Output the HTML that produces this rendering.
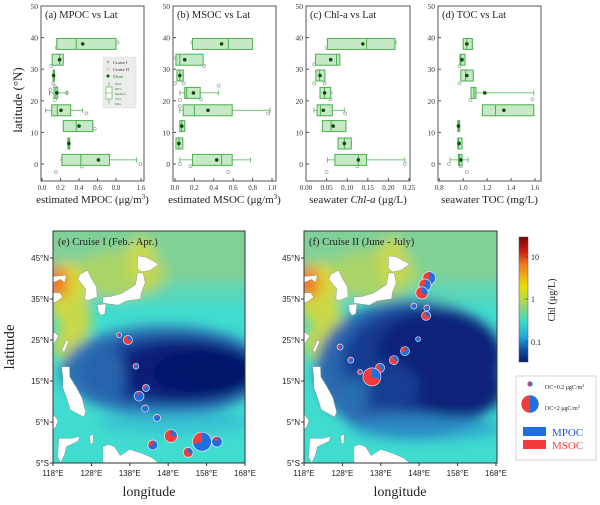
<!DOCTYPE html>
<html><head><meta charset="utf-8"><style>
html,body{margin:0;padding:0;background:#fff;}
svg{display:block;font-family:"Liberation Serif",serif;}
.sans{font-family:"Liberation Sans",sans-serif;}
</style></head><body>
<svg id="fig" width="600" height="505" viewBox="0 0 600 505" xmlns="http://www.w3.org/2000/svg">
<defs>
<filter id="blur6" filterUnits="userSpaceOnUse" x="0" y="200" width="600" height="300"><feGaussianBlur stdDeviation="6"/></filter>
<clipPath id="clipE"><rect x="53" y="231" width="192" height="232"/></clipPath>
<clipPath id="clipF"><rect x="304" y="231" width="193" height="232"/></clipPath>
<linearGradient id="cbar" x1="0" y1="0" x2="0" y2="1">
<stop offset="0" stop-color="#7a0000"/><stop offset="0.12" stop-color="#d02010"/>
<stop offset="0.22" stop-color="#f07a20"/><stop offset="0.4" stop-color="#e8e000"/>
<stop offset="0.52" stop-color="#a8d858"/><stop offset="0.68" stop-color="#38d8c8"/>
<stop offset="0.8" stop-color="#20a8d8"/><stop offset="0.9" stop-color="#1050a8"/>
<stop offset="1" stop-color="#0a1a68"/></linearGradient>
</defs>
<g id="boxes"></g>
<g id="maps"></g>
</svg>
<script>
// ---------- box-plot data ----------
const boxLat = [38, 33, 28, 22.5, 17, 12, 6.5, 1.3];
const aQ1 = [0.16,0.11,0.12,0.13,0.105,0.23,0.28,0.215];
const aMed = [0.37,0.19,0.125,0.15,0.165,0.37,0.29,0.42];
const aQ3 = [0.8,0.23,0.13,0.17,0.31,0.55,0.30,0.73];
const aMean = [0.44,0.19,0.125,0.16,0.205,0.40,0.29,0.61];
const aLo = [0.16,0.11,0.12,0.08,0.04,0.23,0.28,0.215];
const aHi = [0.8,0.23,0.13,0.27,0.44,0.55,0.30,1.46];
const aPtV = [0.85,0.16,0.1,0.12,0.09,0.14,0.27,0.14,0.48,0.25,0.57,0.22,1.58,0.43,0.15];
const aPtL = [38.5,36.8,31,25.5,23.5,24.5,22.5,20.3,16,12.5,11.2,1.3,0,-0.8,-2.5];

const bQ1 = [0.18,0.01,0.02,0.10,0.085,0.05,0.01,0.18];
const bMed = [0.55,0.05,0.05,0.12,0.20,0.07,0.04,0.48];
const bQ3 = [0.80,0.29,0.085,0.26,0.59,0.10,0.08,0.59];
const bMean = [0.48,0.10,0.05,0.19,0.34,0.07,0.04,0.43];
const bLo = [0.18,0.01,0.02,0.05,0.05,0.05,0.01,0.05];
const bHi = [0.80,0.29,0.085,0.45,0.98,0.10,0.08,0.78];
const bPtV = [0.18,0.58,0.01,0.3,0.0,0.09,0.45,0.05,0.27,0.27,0.05,0.96,0.05,0.16,0.55];
const bPtL = [38.5,36.8,33.5,31,25.5,25.5,24.8,20.3,20.5,18.2,18.3,16,0,-0.7,-2.5];

const cQ1 = [0.052,0.023,0.024,0.034,0.027,0.04,0.078,0.07];
const cMed = [0.147,0.074,0.033,0.045,0.035,0.061,0.093,0.127];
const cQ3 = [0.216,0.082,0.046,0.06,0.064,0.097,0.11,0.147];
const cMean = [0.138,0.06,0.034,0.045,0.042,0.066,0.093,0.127];
const cLo = [0.052,0.023,0.024,0.034,0.019,0.04,0.078,0.052];
const cHi = [0.216,0.082,0.046,0.06,0.093,0.097,0.11,0.24];
const cPtV = [0.216,0.05,0.02,0.02,0.045,0.06,0.06,0.095,0.24,0.125,0.05];
const cPtL = [38.5,36.7,31.5,25.5,25.5,20.5,22.5,16,0,-0.7,-2.5];

const dQ1 = [1.0,0.973,0.98,1.065,1.16,0.955,0.955,0.96];
const dMed = [1.03,0.98,1.02,1.09,1.27,0.96,0.96,0.97];
const dQ3 = [1.076,1.015,1.084,1.107,1.59,0.97,0.99,0.99];
const dMean = [1.03,0.99,1.03,1.18,1.34,0.96,0.965,0.98];
const dLo = [1.0,0.973,0.98,1.065,1.16,0.955,0.955,0.89];
const dHi = [1.076,1.015,1.084,1.59,1.59,0.97,0.99,1.04];
const dPtV = [1.07,0.97,0.97,1.06,1.58,0.88,1.03,0.98];
const dPtL = [36.7,31,25.5,20.3,20.5,0,-2.5,-0.7];

// ---------- pie data (Cruise I / Cruise II) ----------
const eLon = [135.2,137.5,139.6,142.2,140.4,142.0,145.1,148.7,144.0,153.2,156.8,160.7];
const eLat = [26.2,25.0,18.6,13.3,11.3,8.3,6.0,1.6,-0.6,-2.4,0.2,0.2];
const eMPOC = [0.08,0.13,0.14,0.21,0.55,0.28,0.27,0.25,0.42,0.18,1.55,0.6];
const eMSOC = [0.07,0.37,0.06,0.09,0.05,0.02,0.03,0.75,0.18,0.42,0.65,0.1];
const fLon = [150.6,149.5,148.7,146.6,150.0,149.8,147.7,144.3,141.4,127.4,130.2,132.6,137.8,135.7];
const fLat = [40.1,38.4,36.5,33.3,32.8,30.9,25.2,22.3,20.1,23.3,20.1,17.2,18.2,16.0];
const fMPOC = [0.5,0.63,0.27,0.18,0.18,0.15,0.14,0.35,0.15,0.11,0.18,0.06,0.2,0.6];
const fMSOC = [0.5,0.27,0.63,0.04,0.04,0.35,0.01,0.15,0.35,0.11,0.04,0.09,0.3,1.4];

const NS = "http://www.w3.org/2000/svg";
function mk(tag, attrs, parent, text){
  const e=document.createElementNS(NS,tag);
  for(const k in attrs) e.setAttribute(k,attrs[k]);
  if(text!==undefined) e.textContent=text;
  parent.appendChild(e); return e;
}
const boxesG=document.getElementById('boxes');
const mapsG=document.getElementById('maps');
const yLat = l => 164 - l*3.16;

function panel(cfg){
  const g=mk('g',{},boxesG);
  
  
  const fr=mk('rect',{x:cfg.x0,y:6,width:cfg.x1-cfg.x0,height:175,fill:'#fff',stroke:'#555','stroke-width':1},g);
  
  
  for(let l=0;l<=50;l+=10){
    mk('line',{x1:cfg.x0,x2:cfg.x0+3,y1:yLat(l),y2:yLat(l),stroke:'#555'},g);
    const t=mk('text',{x:cfg.x0-3,y:yLat(l)+3,'font-size':7.5,'text-anchor':'end',fill:'#333'},g,String(l));
    
    
  }
  cfg.ticks.forEach((v,i)=>{
    const x=cfg.sx(v);
    mk('line',{x1:x,x2:x,y1:181,y2:178,stroke:'#555'},g);
    const t=mk('text',{x:x,y:190,'font-size':7,'text-anchor':'middle',fill:'#333'},g,cfg.tickLabels[i]);
    
    
  });
  const tt=mk('text',{x:cfg.x0+4,y:18,'font-size':10.5,fill:'#222'},g,cfg.title);
  
  
  const xt=mk('text',{x:(cfg.x0+cfg.x1)/2,y:203,'font-size':11,'text-anchor':'middle',fill:'#222'},g);
  xt.innerHTML=cfg.xlabel;
  
  
  cfg.ptV.forEach((v,i)=>{
    const c=mk('circle',{cx:cfg.sx(v),cy:yLat(cfg.ptL[i]),r:1.5,fill:'none',stroke:'#aaa','stroke-width':0.8},g);
    
    
  });
  boxLat.forEach((l,i)=>{
    const y=yLat(l), h=11;
    const bg=mk('g',{},g);
    
    
    mk('line',{x1:cfg.sx(cfg.lo[i]),x2:cfg.sx(cfg.hi[i]),y1:y,y2:y,stroke:'#4caf50','stroke-width':0.8},bg);
    [cfg.lo[i],cfg.hi[i]].forEach(v=>mk('line',{x1:cfg.sx(v),x2:cfg.sx(v),y1:y-2.5,y2:y+2.5,stroke:'#4caf50','stroke-width':0.8},bg));
    const x1=cfg.sx(cfg.q1[i]), x2=cfg.sx(cfg.q3[i]);
    mk('rect',{x:x1,y:y-h/2,width:Math.max(1.5,x2-x1),height:h,fill:'#c5e8c5',stroke:'#4caf50','stroke-width':1},bg);
    mk('line',{x1:cfg.sx(cfg.med[i]),x2:cfg.sx(cfg.med[i]),y1:y-h/2,y2:y+h/2,stroke:'#4caf50','stroke-width':1},bg);
    mk('circle',{cx:cfg.sx(cfg.mean[i]),cy:y,r:1.8,fill:'#0b4d0b'},bg);
  });
  return g;
}
const sa = v => v<=0.8 ? 42+v*92.5 : 116+(v-0.8)/0.8*25;
const gA=panel({name:'panel-a-mpoc',x0:41,x1:144,sx:sa,ticks:[0,0.2,0.4,0.6,0.8,1.6],tickLabels:['0.0','0.2','0.4','0.6','0.8','1.6'],
  title:'(a) MPOC vs Lat',xlabel:'estimated MPOC (μg/m<tspan font-size="7" dy="-4">3</tspan><tspan dy="4">)</tspan>',
  q1:aQ1,med:aMed,q3:aQ3,mean:aMean,lo:aLo,hi:aHi,ptV:aPtV,ptL:aPtL});
panel({name:'panel-b-msoc',x0:173,x1:276,sx:v=>175+v*97,ticks:[0,0.2,0.4,0.6,0.8,1.0],tickLabels:['0.0','0.2','0.4','0.6','0.8','1.0'],
  title:'(b) MSOC vs Lat',xlabel:'estimated MSOC (μg/m<tspan font-size="7" dy="-4">3</tspan><tspan dy="4">)</tspan>',
  q1:bQ1,med:bMed,q3:bQ3,mean:bMean,lo:bLo,hi:bHi,ptV:bPtV,ptL:bPtL});
panel({name:'panel-c-chla',x0:306,x1:410,sx:v=>306+v*412,ticks:[0,0.05,0.1,0.15,0.2,0.25],tickLabels:['0.00','0.05','0.10','0.15','0.20','0.25'],
  title:'(c) Chl-a vs Lat',xlabel:'seawater <tspan font-style="italic">Chl-a</tspan> (μg/L)',
  q1:cQ1,med:cMed,q3:cQ3,mean:cMean,lo:cLo,hi:cHi,ptV:cPtV,ptL:cPtL});
panel({name:'panel-d-toc',x0:438,x1:541,sx:v=>439.3+(v-0.8)*119.6,ticks:[0.8,1.0,1.2,1.4,1.6],tickLabels:['0.8','1.0','1.2','1.4','1.6'],
  title:'(d) TOC vs Lat',xlabel:'seawater TOC (mg/L)',
  q1:dQ1,med:dMed,q3:dQ3,mean:dMean,lo:dLo,hi:dHi,ptV:dPtV,ptL:dPtL});
const lg=mk('g',{},gA);


mk('rect',{x:103,y:57,width:33,height:51,fill:'#ececec',stroke:'#ccc','stroke-width':0.5,'stroke-dasharray':'1,1'},lg);
mk('circle',{cx:108,cy:62,r:1.2,fill:'#aaa'},lg);
mk('text',{x:113,y:64,'font-size':4.5,fill:'#333'},lg,'Cruise I');
mk('circle',{cx:108,cy:69,r:1.2,fill:'none',stroke:'#aaa','stroke-width':0.5},lg);
mk('text',{x:113,y:71,'font-size':4.5,fill:'#333'},lg,'Cruise II');
mk('circle',{cx:108,cy:76,r:1.5,fill:'#0b4d0b'},lg);
mk('text',{x:113,y:78,'font-size':4.5,fill:'#2a8a2a'},lg,'Mean');
mk('line',{x1:109,x2:109,y1:82,y2:104,stroke:'#4caf50','stroke-width':0.6},lg);
mk('rect',{x:106,y:87,width:6,height:12,fill:'#fff',stroke:'#4caf50','stroke-width':0.6},lg);
mk('line',{x1:106,x2:112,y1:93,y2:93,stroke:'#4caf50','stroke-width':0.6},lg);
['Max','99%','Median','25%','Min'].forEach((s,i)=>mk('text',{x:115,y:85+i*5,'font-size':3.5,fill:'#2a8a2a'},lg,s));
const yt=mk('text',{x:0,y:0,'font-size':13,'text-anchor':'middle',fill:'#222',transform:'translate(22,100) rotate(-90)'},boxesG,'latitude (°N)');



// ---------- maps ----------
function mapPanel(x0, clip, name, title, dark, lonA, latA, mA, sA){
  const xs = lon => x0+(lon-118)*3.84;
  const ys = lat => 463-(lat+5)*4.1;
  const g=mk('g',{},mapsG);
  
  
  const c=mk('g',{'clip-path':'url(#'+clip+')'},g);
  mk('rect',{x:x0,y:231,width:193,height:232,fill:'#40dcd0'},c);
  const bl=mk('g',{filter:'url(#blur6)'},c);
  const E=(lon,lat,rx,ry,col,op)=>mk('ellipse',{cx:xs(lon),cy:ys(lat),rx:rx*3.84,ry:ry*4.1,fill:col,'fill-opacity':op||1},bl);
  const R=(l0,la0,l1,la1,col,op)=>mk('rect',{x:xs(l0),y:ys(la1),width:(l1-l0)*3.84,height:(la1-la0)*4.1,fill:col,'fill-opacity':op||1},bl);
  R(110,34,175,60,'#5cd6b8');
  R(110,39,175,60,'#80d098');
  E(136,41,12,6,'#a8d468');E(141,44,4,6,'#c8d850');E(122,36,5,8,'#d8d838');E(119,39,3,4,'#f07828');
  E(124,30,4,6,'#c8d848');E(121,24,3,4,'#c8d848');
  dark.forEach(d=>E(d[0],d[1],d[2],d[3],d[4],d[5]));
  const land=[
    [[124.5,39.8],[126.5,37.5],[126.3,35],[127,34.6],[129.5,35.5],[129.3,38],[128,40],[127,42],[125,41]],
    [[118,40.5],[121.5,40.8],[121,39],[120,39.8],[118,39]],
    [[118,36.5],[119.8,36.5],[120.5,35.5],[119.2,34.5],[118,34]],
    [[118,27],[119.5,26],[118.5,24.5],[118,24]],
    [[140,45.5],[142,45.3],[145.5,43.5],[143.3,42],[141,41.6],[140,42.5]],
    [[140,41.4],[141.5,41.3],[142,39],[141,36.5],[140.8,35],[139,34.8],[137,34.5],[135,33.5],[132.5,33.8],[131,34],[131,35.5],[133,35.6],[136,36.4],[137,37],[139.5,38.5]],
    [[129.6,33.6],[131.8,33.8],[131.5,31.4],[130.5,31],[129.8,32]],
    [[120.3,22.5],[121.6,25.2],[122,24.5],[120.9,22]],
    [[120.2,18.5],[122.3,18.5],[122.4,16],[124,13.6],[125.5,11],[126.5,7.5],[126,6.2],[124.5,7],[122.5,8],[121.5,11],[120.5,13.5],[120.6,15.5]],
    [[118,7],[119.3,5.3],[118.8,4],[118,3]],
    [[119.5,1],[123,1],[125,1.5],[124.5,0.3],[121.5,-1],[121,-3],[120,-5],[119.2,-3.5]],
    [[131,-1],[132.5,-0.5],[134,-1],[135.5,-3.2],[138,-1.7],[141,-2.6],[144,-3.8],[146,-5.5],[131,-5.5]],
    [[127.5,1.5],[128.5,2],[128.4,0],[127.8,-0.5]]
  ];
  const lgG=mk('g',{},c);
  
  
  land.forEach(p=>mk('polygon',{points:p.map(q=>xs(q[0])+','+ys(q[1])).join(' '),fill:'#fff',stroke:'#888','stroke-width':0.4},lgG));
  mk('rect',{x:x0,y:231,width:x0===53?192:193,height:232,fill:'none',stroke:'#333','stroke-width':1},g);
  const tt=mk('text',{x:x0+5,y:245,'font-size':10.5,fill:'#222'},g,title);
  
  
  [45,35,25,15,5,-5].forEach(l=>{
    mk('line',{x1:x0-3,x2:x0,y1:ys(l),y2:ys(l),stroke:'#333'},g);
    const t=mk('text',{x:x0-4,y:ys(l)+3,'font-size':8,'text-anchor':'end',fill:'#222','class':'sans'},g,(l<0?-l+'°S':l+'°N'));
    
    
  });
  [118,128,138,148,158,168].forEach(lon=>{
    mk('line',{x1:xs(lon),x2:xs(lon),y1:463,y2:466,stroke:'#333'},g);
    const t=mk('text',{x:xs(lon),y:476,'font-size':8,'text-anchor':'middle',fill:'#222','class':'sans'},g,lon+'°E');
    
    
  });
  const xt=mk('text',{x:x0+96,y:496,'font-size':14,'text-anchor':'middle',fill:'#222'},g,'longitude');
  
  
  lonA.forEach((lon,i)=>{
    const tot=mA[i]+sA[i];
    const r=6.4*Math.sqrt(tot);
    pie(g,xs(lon),ys(latA[i]),r,mA[i]/tot,'pie-station');
  });
}
function pie(parent,cx,cy,r,frac,name){
  const g=mk('g',{},parent);
  
  
  mk('circle',{cx:cx,cy:cy,r:r,fill:'#f23c3c'},g);
  if(frac>=0.999){ mk('circle',{cx:cx,cy:cy,r:r,fill:'#1f6fe0'},g); }
  else if(frac>0.001){
    const a=frac*2*Math.PI;
    const x=cx+r*Math.sin(a), y=cy-r*Math.cos(a);
    mk('path',{d:`M${cx},${cy} L${cx},${cy-r} A${r},${r} 0 ${frac>0.5?1:0} 1 ${x},${y} Z`,fill:'#1f6fe0'},g);
  }
  mk('circle',{cx:cx,cy:cy,r:r,fill:'none',stroke:'#fff','stroke-width':0.7,'stroke-opacity':0.8},g);
}
mapPanel(53,'clipE','map-cruise-1','(e) Cruise I (Feb.- Apr.)',[
  [147,17.5,27,11,'#2a70b4'],[149,17.5,23,8.5,'#143c92'],[153,17.5,19,7,'#081e74'],[158,17,14,5.5,'#04146a'],
  [131,16.5,6,7,'#2a68b0',0.9],[150,5,20,3,'#30b0d0',0.6]
],eLon,eLat,eMPOC,eMSOC);
mapPanel(304,'clipF','map-cruise-2','(f) Cruise II (June - July)',[
  [146,18,25,17,'#2a66ae'],[149,20,21,13,'#143a90'],[153,22,16,10,'#0a2478'],[158,13,12,7,'#0a2478'],
  [138,14,10,6,'#163e92'],[131,12,4,4,'#2a78b8',0.8],[150,3.5,20,3,'#2a98cc',0.7]
],fLon,fLat,fMPOC,fMSOC);
const latT=mk('text',{x:0,y:0,'font-size':15,'text-anchor':'middle',fill:'#222',transform:'translate(14,347) rotate(-90)'},mapsG,'latitude');



const cb=mk('g',{},mapsG);


mk('rect',{x:519,y:237,width:9,height:125,fill:'url(#cbar)',stroke:'#555','stroke-width':0.5},cb);
[['10',257],['1',299],['0.1',342]].forEach(t=>{
  mk('line',{x1:525,x2:528,y1:t[1],y2:t[1],stroke:'#333','stroke-width':0.5},cb);
  mk('text',{x:531,y:t[1]+3,'font-size':8,fill:'#222'},cb,t[0]);
});
mk('text',{x:0,y:0,'font-size':10,'text-anchor':'middle',fill:'#222',transform:'translate(555,300) rotate(-90)'},cb,'Chl (μg/L)');

const pl=mk('g',{},mapsG);


mk('rect',{x:516,y:376,width:80,height:84,fill:'#fff',stroke:'#ccc','stroke-width':0.8},pl);
pie(pl,530,384,6.4*Math.sqrt(0.2),0.5,'legend-pie-small');
mk('text',{x:545,y:389,'font-size':6,fill:'#222'},pl).innerHTML='OC=0.2 μgC/m<tspan font-size="4" dy="-2">3</tspan>';
pie(pl,530,404,9,0.5,'legend-pie-large');
mk('text',{x:545,y:410,'font-size':6,fill:'#222'},pl).innerHTML='OC=2 μgC/m<tspan font-size="4" dy="-2">3</tspan>';
mk('rect',{x:523,y:427,width:23,height:9,fill:'#1f6fe0'},pl);
mk('text',{x:552,y:436,'font-size':11,fill:'#1f4fe0'},pl,'MPOC');
mk('rect',{x:523,y:440,width:23,height:9,fill:'#f23c3c'},pl);
mk('text',{x:552,y:449,'font-size':11,fill:'#f23c3c'},pl,'MSOC');
</script>
</body></html>
